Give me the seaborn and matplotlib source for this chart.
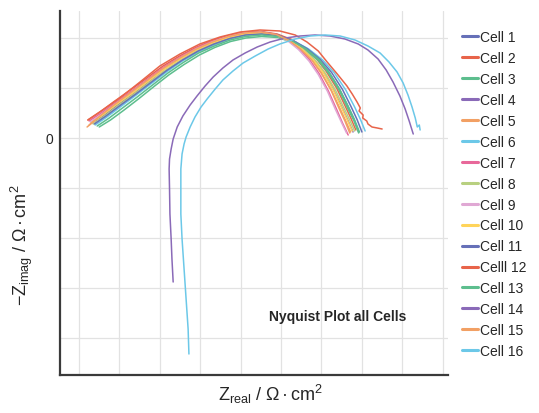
import pandas as pd
import matplotlib
matplotlib.use("Agg")
import matplotlib.pyplot as plt
import seaborn as sns

# Nyquist data (arbitrary units, one grid step = 1)
cell1_re = [1.32, 1.61, 1.95, 2.34, 2.73, 3.12, 3.51, 3.90, 4.30, 4.70, 5.10, 5.50, 5.92, 6.29, 6.60, 6.92, 7.18, 7.44, 7.65, 7.80, 7.92]
cell1_im = [0.30, 0.45, 0.66, 0.89, 1.13, 1.38, 1.58, 1.76, 1.90, 2.01, 2.08, 2.10, 2.06, 1.95, 1.80, 1.58, 1.32, 0.98, 0.64, 0.38, 0.12]
cell2_re = [1.22, 1.52, 1.87, 2.27, 2.68, 3.08, 3.49, 3.89, 4.29, 4.70, 5.10, 5.50, 5.90, 6.26, 6.56, 6.87, 7.12, 7.38, 7.58, 7.73, 7.85]
cell2_im = [0.36, 0.52, 0.73, 0.96, 1.20, 1.44, 1.64, 1.81, 1.95, 2.05, 2.12, 2.13, 2.08, 1.97, 1.81, 1.59, 1.33, 0.99, 0.65, 0.39, 0.16]
cell3_re = [1.50, 1.78, 2.10, 2.47, 2.84, 3.22, 3.60, 3.98, 4.36, 4.75, 5.13, 5.52, 5.92, 6.29, 6.60, 6.92, 7.18, 7.44, 7.64, 7.80, 7.92]
cell3_im = [0.22, 0.36, 0.55, 0.78, 1.02, 1.26, 1.47, 1.66, 1.81, 1.93, 2.00, 2.03, 2.01, 1.91, 1.76, 1.55, 1.29, 0.95, 0.61, 0.35, 0.10]
cell4_re = [1.30, 1.59, 1.93, 2.33, 2.72, 3.12, 3.51, 3.90, 4.30, 4.70, 5.10, 5.50, 5.89, 6.23, 6.52, 6.81, 7.06, 7.30, 7.50, 7.65, 7.78]
cell4_im = [0.32, 0.48, 0.69, 0.92, 1.16, 1.40, 1.60, 1.78, 1.92, 2.03, 2.10, 2.12, 2.07, 1.95, 1.79, 1.57, 1.30, 0.96, 0.62, 0.36, 0.12]
cell5_re = [1.20, 1.50, 1.86, 2.27, 2.68, 3.08, 3.48, 3.89, 4.29, 4.69, 5.09, 5.49, 5.87, 6.20, 6.48, 6.76, 7.00, 7.24, 7.44, 7.59, 7.72]
cell5_im = [0.22, 0.42, 0.65, 0.89, 1.14, 1.39, 1.60, 1.78, 1.92, 2.03, 2.10, 2.11, 2.06, 1.95, 1.79, 1.57, 1.30, 0.96, 0.62, 0.36, 0.12]
cell6_re = [1.40, 1.69, 2.02, 2.40, 2.79, 3.18, 3.56, 3.95, 4.34, 4.73, 5.12, 5.52, 5.95, 6.34, 6.68, 7.03, 7.32, 7.60, 7.82, 7.97, 8.08]
cell6_im = [0.26, 0.42, 0.62, 0.85, 1.09, 1.33, 1.54, 1.72, 1.86, 1.98, 2.05, 2.08, 2.04, 1.93, 1.78, 1.56, 1.30, 0.96, 0.62, 0.36, 0.14]
cell7_re = [1.25, 1.55, 1.90, 2.30, 2.70, 3.10, 3.50, 3.90, 4.30, 4.70, 5.10, 5.50, 5.87, 6.19, 6.45, 6.71, 6.94, 7.17, 7.37, 7.52, 7.66]
cell7_im = [0.34, 0.50, 0.71, 0.94, 1.18, 1.42, 1.62, 1.80, 1.94, 2.04, 2.11, 2.12, 2.07, 1.95, 1.79, 1.56, 1.29, 0.94, 0.58, 0.30, 0.06]
cell8_re = [1.35, 1.64, 1.98, 2.37, 2.76, 3.15, 3.54, 3.93, 4.32, 4.71, 5.10, 5.50, 5.90, 6.25, 6.55, 6.85, 7.10, 7.35, 7.55, 7.70, 7.82]
cell8_im = [0.28, 0.44, 0.65, 0.88, 1.12, 1.36, 1.56, 1.74, 1.88, 1.99, 2.06, 2.09, 2.04, 1.93, 1.77, 1.55, 1.29, 0.95, 0.61, 0.36, 0.14]
cell9_re = [1.28, 1.58, 1.92, 2.32, 2.71, 3.11, 3.50, 3.90, 4.30, 4.70, 5.10, 5.49, 5.86, 6.17, 6.43, 6.69, 6.92, 7.15, 7.34, 7.49, 7.62]
cell9_im = [0.32, 0.48, 0.69, 0.92, 1.16, 1.40, 1.60, 1.78, 1.92, 2.03, 2.10, 2.11, 2.06, 1.94, 1.77, 1.54, 1.27, 0.93, 0.58, 0.32, 0.10]
cell10_re = [1.30, 1.59, 1.93, 2.33, 2.72, 3.12, 3.51, 3.90, 4.30, 4.70, 5.10, 5.50, 5.89, 6.22, 6.51, 6.80, 7.05, 7.29, 7.49, 7.64, 7.76]
cell10_im = [0.30, 0.46, 0.67, 0.90, 1.14, 1.38, 1.58, 1.76, 1.90, 2.01, 2.08, 2.10, 2.05, 1.94, 1.78, 1.56, 1.30, 0.96, 0.62, 0.36, 0.14]
cell11_re = [1.38, 1.67, 2.00, 2.39, 2.78, 3.17, 3.56, 3.95, 4.34, 4.73, 5.12, 5.52, 5.94, 6.31, 6.64, 6.97, 7.25, 7.52, 7.73, 7.88, 8.00]
cell11_im = [0.28, 0.44, 0.64, 0.87, 1.11, 1.35, 1.56, 1.74, 1.88, 1.99, 2.06, 2.08, 2.05, 1.94, 1.79, 1.57, 1.31, 0.97, 0.63, 0.37, 0.12]
cell12_re = [1.22, 1.62, 2.01, 2.51, 3.00, 3.50, 3.99, 4.49, 4.99, 5.48, 5.97, 6.35, 6.64, 6.92, 7.14, 7.39, 7.63, 7.76,
             7.88, 7.96, 7.93, 8.03, 8.02, 8.12, 8.15, 8.25, 8.38, 8.50]
cell12_im = [0.36, 0.58, 0.80, 1.12, 1.44, 1.68, 1.88, 2.02, 2.12, 2.16, 2.14, 2.06, 1.92, 1.74, 1.52, 1.28, 1.04, 0.88,
             0.72, 0.60, 0.54, 0.46, 0.40, 0.34, 0.28, 0.22, 0.20, 0.18]
cell13_re = [1.45, 1.73, 2.06, 2.44, 2.82, 3.20, 3.58, 3.96, 4.35, 4.74, 5.12, 5.52, 5.93, 6.30, 6.62, 6.94, 7.20, 7.46, 7.67, 7.82, 7.94]
cell13_im = [0.24, 0.39, 0.59, 0.82, 1.06, 1.30, 1.51, 1.70, 1.84, 1.96, 2.03, 2.06, 2.03, 1.93, 1.78, 1.57, 1.30, 0.96, 0.62, 0.36, 0.12]
cell14_re = [3.33, 3.30, 3.28, 3.25, 3.24, 3.23, 3.24, 3.28, 3.33, 3.43, 3.57, 3.75, 3.92, 4.12, 4.32, 4.56, 4.81,
             5.11, 5.41, 5.73, 6.10, 6.47, 6.84, 7.21, 7.58, 7.91, 8.15, 8.40, 8.60, 8.77, 8.94, 9.07, 9.17, 9.27]
cell14_im = [-2.88, -2.42, -2.02, -1.52, -1.02, -0.62, -0.42, -0.22, -0.02, 0.22, 0.44, 0.66, 0.84, 1.04, 1.22, 1.40, 1.56,
             1.70, 1.82, 1.92, 2.00, 2.04, 2.06, 2.04, 1.98, 1.88, 1.76, 1.58, 1.36, 1.12, 0.84, 0.58, 0.34, 0.08]
cell15_re = [1.25, 1.55, 1.90, 2.30, 2.70, 3.10, 3.50, 3.90, 4.30, 4.70, 5.10, 5.50, 5.88, 6.20, 6.48, 6.76, 7.00, 7.24, 7.43, 7.58, 7.70]
cell15_im = [0.26, 0.46, 0.68, 0.92, 1.16, 1.40, 1.60, 1.78, 1.92, 2.03, 2.10, 2.12, 2.07, 1.95, 1.78, 1.56, 1.29, 0.95, 0.60, 0.34, 0.10]
cell16_re = [3.72, 3.70, 3.65, 3.60, 3.55, 3.52, 3.52, 3.52, 3.55, 3.60, 3.65, 3.75, 3.87, 4.02, 4.17, 4.37, 4.56, 4.81, 5.06,
             5.36, 5.68, 5.97, 6.35, 6.72, 7.09, 7.46, 7.83, 8.15, 8.45, 8.67, 8.87, 9.02, 9.14, 9.24, 9.32, 9.37, 9.42, 9.44]
cell16_im = [-4.32, -3.82, -3.22, -2.62, -2.02, -1.52, -1.02, -0.62, -0.32, -0.12, 0.02, 0.22, 0.42, 0.62, 0.78, 0.98, 1.16,
             1.34, 1.50, 1.64, 1.78, 1.88, 1.98, 2.04, 2.06, 2.04, 1.96, 1.84, 1.70, 1.52, 1.32, 1.10, 0.86, 0.62, 0.40, 0.22,
             0.26, 0.16]

cell_names = ["Cell 1", "Cell 2", "Cell 3", "Cell 4", "Cell 5", "Cell 6", "Cell 7", "Cell 8",
              "Cell 9", "Cell 10", "Cell 11", "Celll 12", "Cell 13", "Cell 14", "Cell 15", "Cell 16"]
cell_colors = ["#6670b8", "#e8644a", "#5dbe8e", "#8a6ab8", "#f2a064", "#6cc8e8", "#e8689a", "#b8d080",
               "#e0a8d4", "#ffd45a", "#6670b8", "#e8644a", "#5dbe8e", "#8a6ab8", "#f2a064", "#6cc8e8"]

curves = [(cell1_re, cell1_im), (cell2_re, cell2_im), (cell3_re, cell3_im), (cell4_re, cell4_im),
          (cell5_re, cell5_im), (cell6_re, cell6_im), (cell7_re, cell7_im), (cell8_re, cell8_im),
          (cell9_re, cell9_im), (cell10_re, cell10_im), (cell11_re, cell11_im), (cell12_re, cell12_im),
          (cell13_re, cell13_im), (cell14_re, cell14_im), (cell15_re, cell15_im), (cell16_re, cell16_im)]

rows = []
for name, (re_vals, im_vals) in zip(cell_names, curves):
    for r, m in zip(re_vals, im_vals):
        rows.append({"cell": name, "z_real": r, "z_imag": m})
df = pd.DataFrame(rows)

sns.set_style("white")
plt.rcParams["font.family"] = ["Liberation Sans", "DejaVu Sans"]
plt.rcParams["mathtext.fontset"] = "custom"
plt.rcParams["mathtext.rm"] = "Liberation Sans"
plt.rcParams["mathtext.it"] = "Liberation Sans"
plt.rcParams["mathtext.bf"] = "Liberation Sans:bold"

fig = plt.figure(figsize=(5.39, 4.14), dpi=100)
ax = fig.add_axes([60 / 539, 1 - 376 / 414, 388 / 539, 364 / 414])

sns.lineplot(data=df, x="z_real", y="z_imag", hue="cell", hue_order=cell_names,
             palette=cell_colors, sort=False, estimator=None, linewidth=1.1, ax=ax)
for line in ax.get_lines():
    line.set_solid_joinstyle("round")

ax.set_xlim(0.53, 10.13)
ax.set_ylim(-4.74, 2.54)
ax.set_xticks(range(1, 11))
ax.set_xticklabels([""] * 10)
ax.set_yticks([-4, -3, -2, -1, 0, 1, 2])
ax.set_yticklabels(["", "", "", "", "0", "", ""], fontsize=10)
ax.tick_params(direction="in", length=4, width=0.8, color="#cccccc")
ax.tick_params(axis="y", pad=5)
ax.grid(True, color="#e2e2e2", linewidth=0.9)
ax.set_axisbelow(True)

for side in ["top", "right"]:
    ax.spines[side].set_visible(False)
for side in ["left", "bottom"]:
    ax.spines[side].set_color("#3a3a3a")
    ax.spines[side].set_linewidth(1.6)

ax.set_xlabel(r"$\mathrm{Z_{real}\ /\ Ω\,·\,cm^{2}}$", fontsize=13)
ax.set_ylabel(r"$\mathrm{-Z_{imag}\ /\ Ω\,·\,cm^{2}}$", fontsize=13)
ax.xaxis.set_label_coords((270 - 60) / 388, -0.019)
ax.yaxis.set_label_coords(-0.064, (376 - 245) / 364)

ax.text((338 - 60) / 388, (376 - 317) / 364, "Nyquist Plot all Cells", transform=ax.transAxes,
        ha="center", va="center", fontsize=10, fontweight="bold")

handles, labels = ax.get_legend_handles_labels()
for h in handles:
    h.set_linewidth(2.2)
ax.legend(handles, labels, loc="upper left", bbox_to_anchor=(462 / 539, 1 - 31 / 414),
          bbox_transform=fig.transFigure, frameon=False, fontsize=10, handlelength=1.15,
          handletextpad=0.15, labelspacing=0.5, borderpad=0, borderaxespad=0)

fig.savefig("out.png", dpi=100)
